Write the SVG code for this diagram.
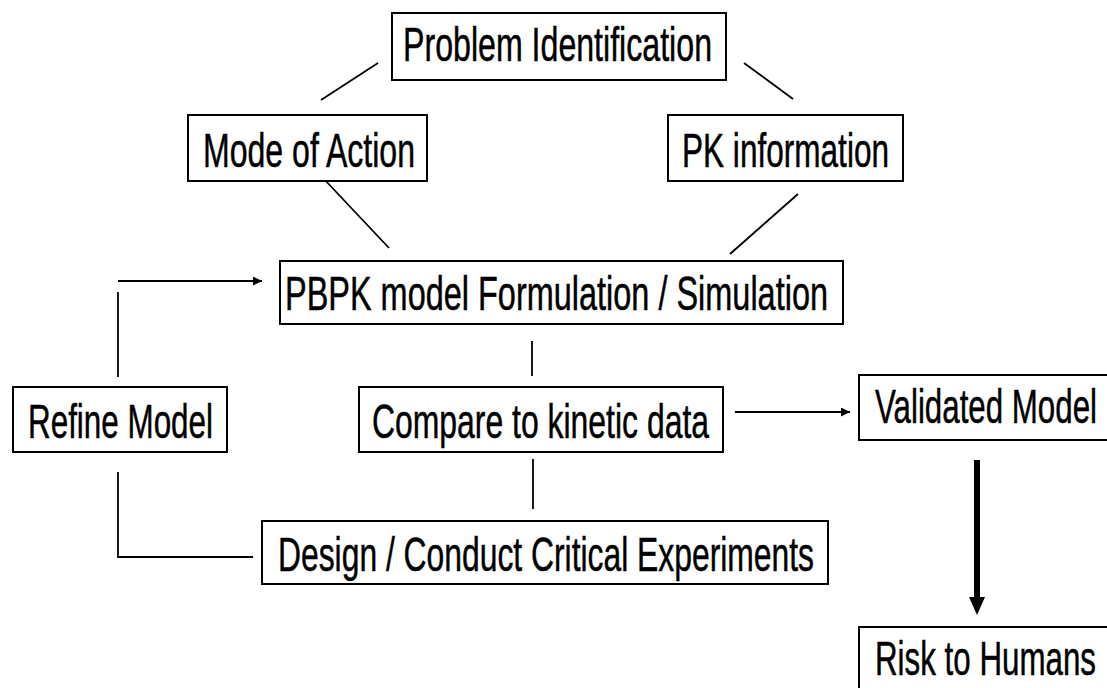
<svg xmlns="http://www.w3.org/2000/svg" width="1107" height="688" viewBox="0 0 1107 688">
  <style>
    .box { fill: #ffffff; stroke: #000000; stroke-width: 2; }
    .lbl { font-family: "Liberation Sans Narrow", "Liberation Sans", Arial, sans-serif; font-size: 48px; fill: #000000; stroke: #000000; stroke-width: 0.5; }
    .ln { fill: none; stroke: #000000; stroke-width: 1.8; }
  </style>
  <defs>
    <marker id="tip" viewBox="0 0 10 10" refX="10" refY="5" markerWidth="12" markerHeight="9" markerUnits="userSpaceOnUse" orient="auto">
      <path d="M0,0 L10,5 L0,10 Z" fill="#000000"/>
    </marker>
  </defs>
  <rect width="1107" height="688" fill="#ffffff"/>

  <g id="connectors">
    <line class="ln" x1="378" y1="63" x2="321" y2="100"/>
    <line class="ln" x1="744" y1="63" x2="793" y2="99"/>
    <line class="ln" x1="323" y1="178" x2="389" y2="248"/>
    <line class="ln" x1="798" y1="194" x2="730" y2="254"/>
    <line class="ln" x1="532" y1="341" x2="532" y2="376"/>
    <line class="ln" x1="533" y1="459" x2="533" y2="509"/>
    <line class="ln" x1="118" y1="292" x2="118" y2="377"/>
    <line class="ln" x1="118" y1="281" x2="262" y2="281" marker-end="url(#tip)"/>
    <polyline class="ln" points="118,472 118,557 253,557"/>
    <line class="ln" x1="735" y1="412" x2="850" y2="412" marker-end="url(#tip)"/>
    <line x1="977" y1="460" x2="977" y2="600" stroke="#000000" stroke-width="6"/>
    <path d="M969,597 L985,597 L977,615 Z" fill="#000000"/>
  </g>

  <g id="problem-identification">
    <rect class="box" x="392" y="13" width="334" height="67"/>
    <text class="lbl" x="403" y="61" textLength="309" lengthAdjust="spacingAndGlyphs">Problem Identification</text>
  </g>
  <g id="mode-of-action">
    <rect class="box" x="188" y="115" width="239" height="66"/>
    <text class="lbl" x="203" y="167" textLength="212" lengthAdjust="spacingAndGlyphs">Mode of Action</text>
  </g>
  <g id="pk-information">
    <rect class="box" x="668" y="115" width="235" height="66"/>
    <text class="lbl" x="682" y="167" textLength="207" lengthAdjust="spacingAndGlyphs">PK information</text>
  </g>
  <g id="pbpk-model">
    <rect class="box" x="280" y="261" width="563" height="63"/>
    <text class="lbl" x="285" y="310" textLength="543" lengthAdjust="spacingAndGlyphs">PBPK model Formulation / Simulation</text>
  </g>
  <g id="refine-model">
    <rect class="box" x="13" y="387" width="214" height="65"/>
    <text class="lbl" x="28" y="438" textLength="185" lengthAdjust="spacingAndGlyphs">Refine Model</text>
  </g>
  <g id="compare-kinetic">
    <rect class="box" x="359" y="387" width="364" height="65"/>
    <text class="lbl" x="372" y="438" textLength="337" lengthAdjust="spacingAndGlyphs">Compare to kinetic data</text>
  </g>
  <g id="validated-model">
    <rect class="box" x="859" y="375" width="270" height="65"/>
    <text class="lbl" x="875" y="423" textLength="222" lengthAdjust="spacingAndGlyphs">Validated Model</text>
  </g>
  <g id="design-experiments">
    <rect class="box" x="262" y="521" width="566" height="63"/>
    <text class="lbl" x="278" y="571" textLength="536" lengthAdjust="spacingAndGlyphs">Design / Conduct Critical Experiments</text>
  </g>
  <g id="risk-to-humans">
    <rect class="box" x="859" y="627" width="270" height="80"/>
    <text class="lbl" x="875" y="675" textLength="221" lengthAdjust="spacingAndGlyphs">Risk to Humans</text>
  </g>
</svg>
